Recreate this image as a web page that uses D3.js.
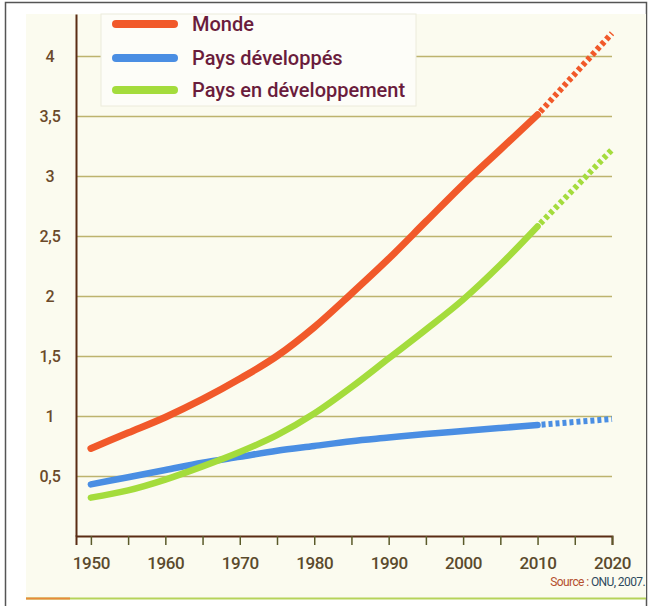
<!DOCTYPE html>
<html>
<head>
<meta charset="utf-8">
<script src="https://cdn.jsdelivr.net/npm/d3@7"></script>
<style>
  body { margin: 0; background: #fff; }
  svg { display: block; }
</style>
</head>
<body>
<svg id="chart" width="649" height="606"></svg>
<script>
// years with 5-year points, projection for 2020
const years = [1950, 1955, 1960, 1965, 1970, 1975, 1980, 1985, 1990, 1995, 2000, 2005, 2010];
const projYears = [2010, 2020];

// urban population, billions
const monde = [0.73, 0.86, 0.99, 1.14, 1.31, 1.50, 1.74, 2.02, 2.31, 2.62, 2.93, 3.22, 3.51];
const mondeProj = [3.51, 4.19];
const developpes = [0.43, 0.49, 0.55, 0.61, 0.66, 0.71, 0.75, 0.79, 0.82, 0.85, 0.875, 0.90, 0.925];
const developpesProj = [0.925, 0.975];
const enDev = [0.32, 0.38, 0.47, 0.58, 0.70, 0.84, 1.02, 1.24, 1.48, 1.72, 1.97, 2.26, 2.58];
const enDevProj = [2.58, 3.22];

const seriesNames = ["Monde", "Pays développés", "Pays en développement"];
const yTicks = [0.5, 1, 1.5, 2, 2.5, 3, 3.5, 4];
const xTicks = d3.range(1950, 2021, 5);

const font = 'Roboto, "DejaVu Sans Condensed", sans-serif';
const colors = ["#f1592a", "#4a8ee3", "#a4dc3c"];

const svg = d3.select('#chart');

// frame and paper
svg.append('rect')
    .attr('x', 5.5).attr('y', 2.5)
    .attr('width', 641).attr('height', 620)
    .attr('fill', '#fff')
    .attr('stroke', '#555').attr('stroke-width', 1.5);
svg.append('rect')
    .attr('x', 26).attr('y', 14)
    .attr('width', 620).attr('height', 584)
    .attr('fill', '#fbfbef');
svg.append('line')
    .attr('x1', 26).attr('x2', 646).attr('y1', 598.5).attr('y2', 598.5)
    .attr('stroke', '#b6d35a').attr('stroke-width', 2);
svg.append('line')
    .attr('x1', 26).attr('x2', 70).attr('y1', 598.5).attr('y2', 598.5)
    .attr('stroke', '#e88a3a').attr('stroke-width', 2);

const xScale = d3.scaleLinear().domain([1948, 2020]).range([76, 612]);
const yScale = d3.scaleLinear().domain([0, 4.35]).range([536, 14]);

// gridlines
const grid = svg.append('g')
    .attr('transform', `translate(76,0)`)
    .call(d3.axisLeft(yScale).tickValues(yTicks).tickSize(-(612 - 76)).tickFormat(''));
grid.select('.domain').remove();
grid.selectAll('.tick line')
    .attr('stroke', '#bdb36e')
    .attr('stroke-width', 1.3);

// legend box sits over the top gridline
svg.append('rect')
    .attr('x', 101).attr('y', 14)
    .attr('width', 315).attr('height', 92)
    .attr('fill', '#fdfdf8')
    .attr('stroke', '#ecebdc').attr('stroke-width', 1);

// lines
const line = d3.line()
    .x(d => xScale(d[0]))
    .y(d => yScale(d[1]))
    .curve(d3.curveMonotoneX);

const solid = [monde, developpes, enDev];
const proj = [mondeProj, developpesProj, enDevProj];

solid.forEach((vals, i) => {
  svg.append('path')
      .datum(years.map((y, j) => [y, vals[j]]))
      .attr('fill', 'none')
      .attr('stroke', colors[i])
      .attr('stroke-width', i === 0 ? 7 : 6.5)
      .attr('stroke-linecap', 'round')
      .attr('d', line);
  svg.append('path')
      .datum(projYears.map((y, j) => [y, proj[i][j]]))
      .attr('fill', 'none')
      .attr('stroke', colors[i])
      .attr('stroke-width', 6)
      .attr('stroke-dasharray', '4,3')
      .attr('stroke-dashoffset', 3)
      .attr('d', line);
});

// y axis
const yAxisG = svg.append('g')
    .attr('transform', `translate(76,0)`)
    .call(d3.axisLeft(yScale).tickValues(yTicks).tickSize(0)
      .tickFormat(d => String(d).replace('.', ',')));
yAxisG.select('.domain')
    .attr('stroke', '#5a2c14').attr('stroke-width', 2);
yAxisG.selectAll('.tick text')
    .attr('x', -26)
    .attr('dy', '0.35em')
    .style('text-anchor', 'middle')
    .style('font-family', font)
    .style('font-weight', 500)
    .style('font-size', '16px')
    .style('letter-spacing', '-0.3px')
    .attr('fill', '#6b4a2a');

// x axis
const xAxisG = svg.append('g')
    .attr('transform', `translate(0,536)`)
    .call(d3.axisBottom(xScale).tickValues(xTicks).tickSizeOuter(0).tickSize(9)
      .tickFormat(d => d % 10 === 0 ? d : ''));
xAxisG.select('.domain')
    .attr('stroke', '#5a2c14').attr('stroke-width', 2);
xAxisG.selectAll('.tick line')
    .attr('stroke', '#5a5a2a').attr('stroke-width', 1.5);
xAxisG.selectAll('.tick text')
    .attr('y', 27)
    .attr('dy', '0.35em')
    .style('font-family', font)
    .style('font-weight', 500)
    .style('font-size', '17px')
    .style('letter-spacing', '-0.4px')
    .attr('fill', '#5a4a2c');

// legend
const legendY = [24, 58, 90];
seriesNames.forEach((name, i) => {
  svg.append('line')
      .attr('x1', 116).attr('x2', 174)
      .attr('y1', legendY[i]).attr('y2', legendY[i])
      .attr('stroke', colors[i])
      .attr('stroke-width', 8)
      .attr('stroke-linecap', 'round');
  svg.append('text')
      .attr('x', 192)
      .attr('y', legendY[i])
      .attr('dy', '0.35em')
      .style('font-family', font)
      .style('font-weight', 500)
      .style('font-size', '20px')
      .attr('fill', '#6a1c3c')
      .text(name);
});

// source
const src = svg.append('text')
    .attr('x', 645)
    .attr('y', 586)
    .style('text-anchor', 'end')
    .style('font-family', font)
    .style('font-size', '12px')
    .style('letter-spacing', '-0.6px');
src.append('tspan').attr('fill', '#b5502e').text('Source : ');
src.append('tspan').attr('fill', '#2e4a5e').text('ONU, 2007.');
</script>
</body>
</html>
